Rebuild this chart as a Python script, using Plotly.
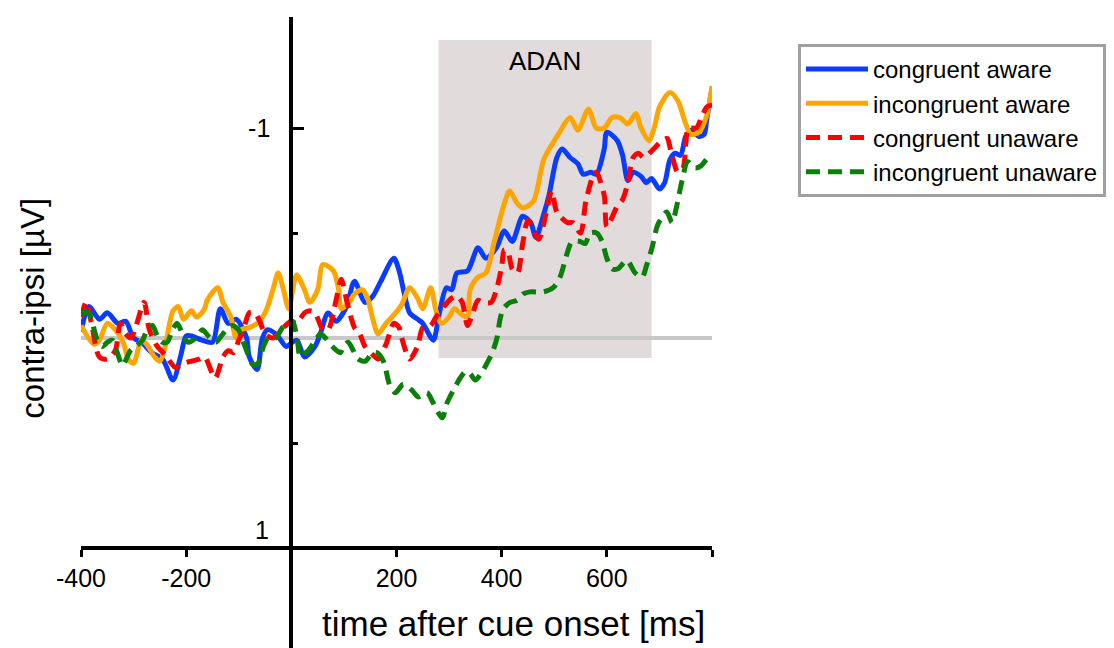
import plotly.graph_objects as go

# ---------------- data (time in ms, amplitude in µV) ----------------
t_ca = [-400,-385,-365,-350,-330,-315,-300,-285,-265,-245,-225,-210,-200,-190,-170,-150,-135,-120,-105,-85,-80,-65,-55,-45,-30,-20,-10,10,25,45,55,70,85,105,120,140,155,170,195,205,215,225,240,250,270,280,295,305,315,335,355,370,390,405,420,440,455,465,480,490,505,515,530,545,555,570,580,595,600,620,630,640,650,665,675,685,700,710,720,730,740,750,760,775,785,790,800]
v_ca = [-0.03,-0.15,-0.09,-0.12,-0.07,-0.08,0.00,0.02,0.07,0.10,0.20,0.08,-0.01,-0.01,0.01,0.02,-0.14,-0.07,-0.09,0.00,0.09,0.15,0.00,-0.04,-0.02,0.01,0.04,0.01,0.09,0.04,-0.02,-0.12,-0.08,-0.15,-0.27,-0.17,-0.20,-0.27,-0.38,-0.32,-0.21,-0.12,-0.09,-0.07,0.01,-0.10,-0.24,-0.23,-0.31,-0.32,-0.43,-0.38,-0.43,-0.51,-0.46,-0.58,-0.55,-0.48,-0.59,-0.68,-0.86,-0.90,-0.86,-0.83,-0.78,-0.79,-0.78,-0.90,-0.98,-0.94,-0.87,-0.75,-0.79,-0.77,-0.74,-0.76,-0.71,-0.74,-0.85,-0.88,-0.87,-0.96,-0.99,-0.96,-0.97,-1.04,-1.19]

t_ia = [-400,-375,-365,-350,-335,-320,-310,-300,-285,-275,-260,-250,-240,-225,-215,-205,-190,-180,-165,-160,-140,-130,-115,-105,-95,-80,-65,-50,-35,-25,-15,-5,10,25,35,50,60,80,90,95,110,120,135,145,155,165,180,195,210,225,240,250,265,275,285,300,310,325,335,340,355,370,385,395,405,415,430,440,460,480,500,510,530,545,565,580,595,610,625,640,655,665,680,690,700,720,735,750,760,775,790,800]
v_ia = [-0.06,0.03,0.01,-0.07,-0.04,0.02,0.10,0.12,0.01,0.03,0.09,0.11,0.04,-0.13,-0.15,-0.09,-0.13,-0.10,-0.14,-0.18,-0.24,-0.17,-0.10,0.00,-0.04,-0.05,-0.07,-0.12,-0.23,-0.31,-0.23,-0.14,-0.30,-0.23,-0.17,-0.23,-0.35,-0.32,-0.23,-0.14,-0.17,-0.21,-0.23,-0.19,-0.09,-0.02,-0.07,-0.11,-0.16,-0.24,-0.19,-0.14,-0.24,-0.13,-0.07,-0.10,-0.14,-0.11,-0.10,-0.23,-0.29,-0.31,-0.45,-0.55,-0.64,-0.70,-0.64,-0.62,-0.65,-0.85,-0.94,-0.98,-1.05,-0.99,-1.09,-1.00,-1.00,-1.05,-1.05,-1.02,-1.07,-1.00,-0.94,-1.00,-1.10,-1.17,-1.13,-1.02,-0.97,-0.98,-1.06,-1.20]

t_cu = [-400,-390,-380,-365,-350,-335,-325,-315,-305,-295,-280,-270,-255,-240,-220,-205,-190,-175,-165,-145,-130,-120,-110,-100,-90,-80,-70,-60,-50,-35,-15,0,10,25,35,45,60,70,85,95,105,110,120,130,140,155,165,180,195,205,210,225,240,250,265,275,290,305,315,325,335,345,355,365,380,390,400,405,412,420,430,440,450,470,485,495,505,525,535,550,560,575,580,595,600,620,630,640,650,660,670,685,705,715,720,725,735,745,750,755,770,780,790,800]
v_cu = [-0.10,-0.17,-0.07,0.09,0.10,0.06,-0.07,-0.02,0.00,-0.06,-0.17,-0.04,0.04,0.08,0.14,0.12,0.11,0.10,0.09,0.19,0.09,0.06,0.07,0.01,-0.05,-0.12,-0.12,-0.08,-0.02,0.00,-0.05,-0.08,-0.07,-0.12,-0.13,-0.12,-0.04,-0.04,-0.18,-0.28,-0.18,-0.13,-0.05,-0.02,0.04,0.08,0.10,0.03,-0.07,-0.05,0.00,0.10,0.04,-0.05,-0.06,-0.10,-0.15,-0.19,-0.20,-0.17,-0.06,-0.12,-0.18,-0.17,-0.17,-0.23,-0.34,-0.42,-0.41,-0.33,-0.31,-0.45,-0.56,-0.47,-0.60,-0.70,-0.60,-0.55,-0.55,-0.50,-0.65,-0.78,-0.79,-0.68,-0.53,-0.63,-0.66,-0.74,-0.86,-0.88,-0.86,-0.89,-0.94,-0.95,-0.91,-0.86,-0.79,-0.81,-0.92,-1.00,-1.00,-1.05,-1.10,-1.11]

t_iu = [-400,-386,-376,-369,-359,-350,-340,-331,-321,-306,-296,-283,-274,-264,-255,-245,-236,-226,-217,-207,-196,-182,-169,-158,-144,-133,-120,-112,-101,-91,-82,-72,-63,-53,-44,-30,-17,-8,2,11,17,27,32,46,55,65,78,93,99,108,118,127,141,154,163,175,188,198,213,230,241,258,270,287,296,312,321,331,340,350,363,372,382,391,397,403,416,429,441,454,479,498,511,524,534,549,559,568,581,591,600,610,621,638,654,667,676,686,697,714,724,733,743,754,768,779,789,796]
v_iu = [-0.12,-0.12,-0.05,0.01,0.04,0.02,0.01,0.07,0.13,0.06,0.04,0.01,-0.04,-0.06,-0.01,0.02,0.02,-0.04,-0.07,-0.02,0.02,0.00,-0.04,-0.01,0.02,-0.01,-0.05,-0.06,-0.04,0.02,0.08,0.13,0.12,0.04,0.00,0.00,-0.05,-0.07,-0.08,0.00,0.09,0.07,0.06,0.01,-0.02,0.00,0.04,0.07,0.04,0.02,0.06,0.10,0.11,0.07,0.07,0.11,0.23,0.26,0.22,0.25,0.28,0.26,0.31,0.38,0.31,0.23,0.19,0.16,0.17,0.20,0.16,0.12,0.07,0.00,-0.09,-0.14,-0.17,-0.18,-0.21,-0.22,-0.22,-0.24,-0.29,-0.40,-0.46,-0.46,-0.45,-0.50,-0.50,-0.46,-0.38,-0.33,-0.33,-0.37,-0.31,-0.29,-0.35,-0.43,-0.54,-0.60,-0.55,-0.63,-0.75,-0.84,-0.81,-0.82,-0.85,-0.87]

series_names = ["congruent aware", "incongruent aware", "congruent unaware", "incongruent unaware"]
series_t = [t_ca, t_ia, t_cu, t_iu]
series_v = [v_ca, v_ia, v_cu, v_iu]
series_colors = ["#0A3CFF", "#FFA500", "#FF0000", "#0A7F0A"]
series_dash = ["solid", "solid", "14px,8px", "14px,8px"]

x_range = [-400, 800]
y_range = [1.476, -1.529]          # reversed: negative up
x_tickvals = [-400, -200, 200, 400, 600, 800]
x_ticktext = ["-400", "-200", "200", "400", "600", ""]
y_tickvals = [-1]
y_ticktext = ["-1"]
y_minor_ticks = [-0.5, 0.5]
adan_window = [280, 685]
adan_y = [-1.42, 0.095]

FONT = "Liberation Sans, Arial, sans-serif"

fig = go.Figure()
for name, t, v, c, d in zip(series_names, series_t, series_v, series_colors, series_dash):
    fig.add_trace(go.Scatter(
        x=t, y=v, mode="lines", name=name,
        line=dict(color=c, width=5, dash=d, shape="spline", smoothing=0.8),
    ))

fig.add_shape(type="rect", xref="x", yref="y",
              x0=adan_window[0], x1=adan_window[1], y0=adan_y[0], y1=adan_y[1],
              fillcolor="#E1DCDB", line=dict(width=0), layer="below")

fig.add_annotation(x=sum(adan_window) / 2, y=-1.32, xref="x", yref="y",
                   text="ADAN", showarrow=False,
                   font=dict(size=26, color="black", family=FONT))

# tick label "1" (drawn slightly above the x axis as in the original)
fig.add_annotation(x=0, y=1, xref="x", yref="y", text="1", showarrow=False,
                   xanchor="right", yanchor="middle", xshift=-20, yshift=18,
                   font=dict(size=25, color="black", family=FONT))

# axis titles
fig.add_annotation(x=422, y=1.36, xref="x", yref="y",
                   text="time after cue onset [ms]", showarrow=False,
                   xanchor="center", yanchor="middle",
                   font=dict(size=35, color="black", family=FONT))
fig.add_annotation(x=(33 - 81) / 631, y=-0.14, xref="paper", yref="y",
                   text="contra-ipsi [µV]", showarrow=False, textangle=-90,
                   xanchor="center", yanchor="middle",
                   font=dict(size=33, color="black", family=FONT))

y_pos_of_xaxis = (y_range[0] - 1) / (y_range[0] - y_range[1])
x_pos_of_yaxis = (0 - x_range[0]) / (x_range[1] - x_range[0])

fig.update_layout(
    width=1114, height=648,
    margin=dict(l=81, r=402, t=17, b=0),
    paper_bgcolor="white", plot_bgcolor="white",
    font=dict(family=FONT, color="black", size=25),
    showlegend=True,
    legend=dict(
        x=(798 - 81) / 631, xanchor="left",
        y=(648 - 44) / 631, yanchor="top",
        bgcolor="white", bordercolor="#A0A0A0", borderwidth=3,
        font=dict(size=24, family=FONT, color="black"),
        itemwidth=62,
    ),
    xaxis=dict(
        range=x_range, showgrid=False, zeroline=False,
        showline=True, linecolor="black", linewidth=4,
        anchor="free", position=y_pos_of_xaxis,
        tickmode="array", tickvals=x_tickvals, ticktext=x_ticktext,
        ticks="outside", ticklen=7, tickwidth=3, tickcolor="black",
        tickfont=dict(size=25, family=FONT, color="black"),
    ),
    yaxis=dict(
        range=y_range, showgrid=False,
        zeroline=True, zerolinecolor="#C8C8C8", zerolinewidth=4,
        showline=True, linecolor="black", linewidth=4,
        anchor="free", position=x_pos_of_yaxis,
        tickmode="array", tickvals=y_tickvals, ticktext=y_ticktext,
        ticks="inside", ticklen=11, tickwidth=3, tickcolor="black",
        ticklabelstandoff=14,
        tickfont=dict(size=25, family=FONT, color="black"),
        minor=dict(tickvals=y_minor_ticks, ticks="inside", ticklen=5,
                   tickwidth=3, tickcolor="black"),
    ),
)

fig.write_html("out.html")
